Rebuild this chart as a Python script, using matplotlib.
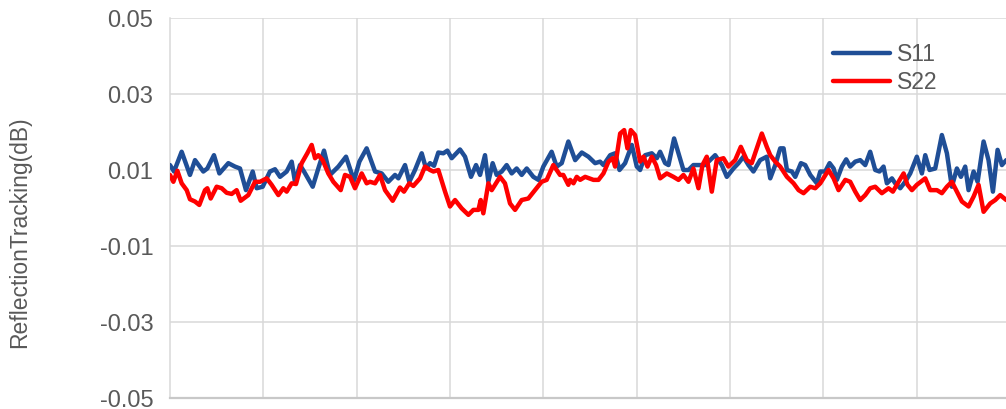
import matplotlib
matplotlib.use("Agg")
import matplotlib.pyplot as plt

plt.rcParams['font.family'] = ['Liberation Sans', 'DejaVu Sans']

# ---- data ----
s11_x = [0, .043, .125, .214, .268, .357, .4, .471, .529, .625, .696, .75, .814, .886, .929, .993,
         1.071, 1.125, 1.179, 1.25, 1.304, 1.339, 1.393, 1.436, 1.529, 1.589, 1.65, 1.714, 1.804, 1.886,
         1.971, 2.029, 2.107,
         2.197, 2.268, 2.339, 2.411, 2.447, 2.518, 2.564, 2.625, 2.697, 2.743, 2.786, 2.829, 2.875, 2.929,
         2.972, 3.018, 3.107, 3.161, 3.225, 3.279, 3.322, 3.375, 3.411, 3.457, 3.5, 3.554, 3.607, 3.661,
         3.714, 3.768, 3.822, 3.893, 3.947, 4.0, 4.089, 4.143, 4.197, 4.268,
         4.341, 4.412, 4.483, 4.555, 4.608, 4.644, 4.716, 4.769, 4.816, 4.876, 4.948, 5.001, 5.037, 5.091,
         5.162, 5.216, 5.251, 5.305, 5.341, 5.401, 5.448, 5.501, 5.555, 5.608, 5.68, 5.733, 5.787, 5.841,
         5.912, 5.966, 6.037, 6.091, 6.144, 6.198, 6.251, 6.323, 6.394,
         6.431, 6.485, 6.538, 6.574, 6.61, 6.663, 6.699, 6.76, 6.806, 6.86, 6.931, 6.967, 7.02, 7.067,
         7.11, 7.145, 7.199, 7.245, 7.288, 7.342, 7.395, 7.449, 7.502, 7.556, 7.602, 7.645, 7.681, 7.735,
         7.77, 7.824, 7.877, 7.931, 8.002, 8.056, 8.092, 8.138, 8.199, 8.27, 8.324, 8.377, 8.431, 8.474,
         8.52, 8.556, 8.61, 8.653, 8.717, 8.77, 8.817, 8.867, 8.913, 8.96]
s11_y = [.0113, .0096, .0148, .0087, .0126, .0096, .0104, .0139, .0091, .0118, .0109, .0104, .0047, .0096,
         .0052, .0056, .0096, .0102, .0082, .0096, .0122, .0069, .0113, .0096, .0056, .0104, .0151, .0087,
         .0109, .0135, .0072, .0122, .0157,
         .0096, .0091, .0069, .0087, .0078, .0113, .0069, .0100, .0144, .0104, .0118, .0111, .0146, .0144,
         .0151, .0131, .0154, .0135, .0082, .0113, .0087, .0139, .0069, .0118, .0087, .0096, .0113, .0091,
         .0104, .0087, .0104, .0082, .0074, .0109, .0148, .0109, .0118, .0175,
         .0126, .0146, .0135, .0118, .0122, .0113, .0139, .0144, .0100, .0118, .0166, .0109, .0100, .0139,
         .0144, .0131, .0148, .0118, .0113, .0183, .0144, .0100, .0100, .0113, .0113, .0113, .0126, .0139,
         .0113, .0082, .0104, .0118, .0135, .0113, .0096, .0126, .0135,
         .0078, .0113, .0157, .0157, .0100, .0096, .0082, .0118, .0113, .0087, .0065, .0096, .0096, .0118,
         .0104, .0074, .0109, .0128, .0109, .0122, .0126, .0113, .0148, .0100, .0096, .0109, .0065, .0078,
         .0065, .0052, .0069, .0091, .0135, .0091, .0139, .0100, .0104, .0192, .0144, .0056, .0104, .0082,
         .0109, .0047, .0096, .0069, .0175, .0126, .0043, .0153, .0113, .0126]

s22_x = [0, .036, .079, .125, .179, .214, .268, .314, .375, .4, .436, .5, .554, .607, .661, .714, .757,
         .839, .911, .964, 1.036, 1.089, 1.161, 1.214, 1.25, 1.304, 1.35, 1.411, 1.471, 1.518, 1.554,
         1.589, 1.636, 1.696, 1.75, 1.829, 1.875, 1.929, 1.982, 2.054, 2.107,
         2.143, 2.197, 2.25, 2.304, 2.386, 2.464, 2.507, 2.564, 2.607, 2.679, 2.732, 2.786, 2.822, 2.875,
         2.947, 3.0, 3.054, 3.125, 3.197, 3.25, 3.304, 3.329, 3.357, 3.411, 3.447, 3.536, 3.589, 3.643,
         3.697, 3.768, 3.839, 3.911, 3.982, 4.036, 4.107, 4.179, 4.214, 4.268,
         4.287, 4.323, 4.358, 4.394, 4.448, 4.537, 4.591, 4.644, 4.698, 4.744, 4.769, 4.823, 4.866, 4.901,
         4.937, 4.983, 5.037, 5.073, 5.116, 5.162, 5.208, 5.251, 5.323, 5.394, 5.448, 5.501, 5.555, 5.608,
         5.662, 5.705, 5.751, 5.805, 5.858, 5.93, 5.983, 6.055, 6.116, 6.18, 6.233, 6.287, 6.341, 6.394,
         6.431, 6.485, 6.538, 6.61, 6.681, 6.735, 6.788, 6.86, 6.913, 6.967, 7.056, 7.11, 7.163, 7.235,
         7.288, 7.342, 7.395, 7.449, 7.502, 7.556, 7.627, 7.699, 7.745, 7.806, 7.86, 7.902, 7.949, 8.002,
         8.092, 8.145, 8.217, 8.27, 8.324, 8.377, 8.431, 8.485, 8.556, 8.61, 8.663, 8.717, 8.788, 8.842,
         8.895, 8.96]
s22_y = [.0087, .0069, .0098, .0065, .0047, .0023, .0017, .0008, .0047, .0052, .0025, .0056, .0052, .0040,
         .0037, .0047, .0019, .0034, .0069, .0069, .0078, .0061, .0034, .0052, .0043, .0065, .0063, .0118,
         .0144, .0166, .0131, .0139, .0126, .0091, .0069, .0047, .0087, .0082, .0052, .0091, .0065,
         .0069, .0065, .0087, .0047, .0019, .0054, .0043, .0065, .0058, .0078, .0109, .0100, .0096, .0100,
         .0043, .0004, .0021, -.0001, -.0018, -.0005, -.0005, .0021, -.0014, .0065, .0047, .0082, .0065,
         .0012, -.0005, .0021, .0025, .0047, .0069, .0074, .0113, .0087, .0087, .0061,
         .0074, .0065, .0082, .0074, .0082, .0074, .0074, .0091, .0122, .0131, .0109, .0196, .0205, .0157,
         .0205, .0192, .0122, .0135, .0109, .0135, .0113, .0078, .0091, .0082, .0074, .0087, .0069, .0104,
         .0052, .0113, .0135, .0043, .0126, .0131, .0109, .0126, .0161, .0126, .0118, .0157, .0196, .0161,
         .0139, .0122, .0109, .0082, .0065, .0047, .0039, .0056, .0052, .0065, .0100, .0078, .0047, .0074,
         .0069, .0043, .0021, .0034, .0052, .0056, .0039, .0052, .0043, .0069, .0091, .0061, .0047, .0061,
         .0078, .0047, .0047, .0039, .0056, .0069, .0043, .0017, .0004, .0030, .0061, -.0010, .0012, .0021,
         .0034, .0021]

series_names = ['S11', 'S22']
y_ticks = [0.05, 0.03, 0.01, -0.01, -0.03, -0.05]
y_tick_labels = ['0.05', '0.03', '0.01', '-0.01', '-0.03', '-0.05']
y_label = 'ReflectionTracking(dB)'

# ---- figure ----
W, H = 1006, 409
fig = plt.figure(figsize=(W / 100, H / 100), dpi=100)
ax = fig.add_axes([170 / W, 1 - 398 / H, (1010 - 170) / W, (398 - 18) / H])

txt = '#595959'
grid = '#D9D9D9'

ax.plot(s11_x, s11_y, color='#1F4E96', lw=3.2, solid_joinstyle='round', solid_capstyle='round',
        label=series_names[0], zorder=3)
ax.plot(s22_x, s22_y, color='#FF0000', lw=3.2, solid_joinstyle='round', solid_capstyle='round',
        label=series_names[1], zorder=3)

ax.set_xlim(0, 9)
ax.set_ylim(-0.05, 0.05)
ax.set_yticks(y_ticks)
ax.set_yticklabels(y_tick_labels)
ax.set_xticks(range(1, 9))
ax.tick_params(axis='x', length=0, labelbottom=False)
ax.tick_params(axis='y', length=0, pad=12, labelsize=17, labelcolor=txt)
ax.grid(True, color=grid, lw=1.1, zorder=0)
for s in ['top', 'right']:
    ax.spines[s].set_visible(False)
ax.spines['left'].set_color(grid)
ax.spines['left'].set_linewidth(1.1)
ax.spines['bottom'].set_color('#C8C8C8')
ax.spines['bottom'].set_linewidth(1.6)

fig.text(20 / W, 1 - 232 / H, y_label, rotation=90, ha='center', va='center',
         fontsize=16.5, color=txt)

leg = ax.legend(loc='upper left', bbox_to_anchor=(833 / W, 1 - 43 / H),
                bbox_transform=fig.transFigure, frameon=False, fontsize=16.5,
                handlelength=2.5, handletextpad=0.3, labelspacing=0.22,
                borderpad=0, borderaxespad=0)
for t in leg.get_texts():
    t.set_color(txt)

fig.savefig('out.png', dpi=100)
